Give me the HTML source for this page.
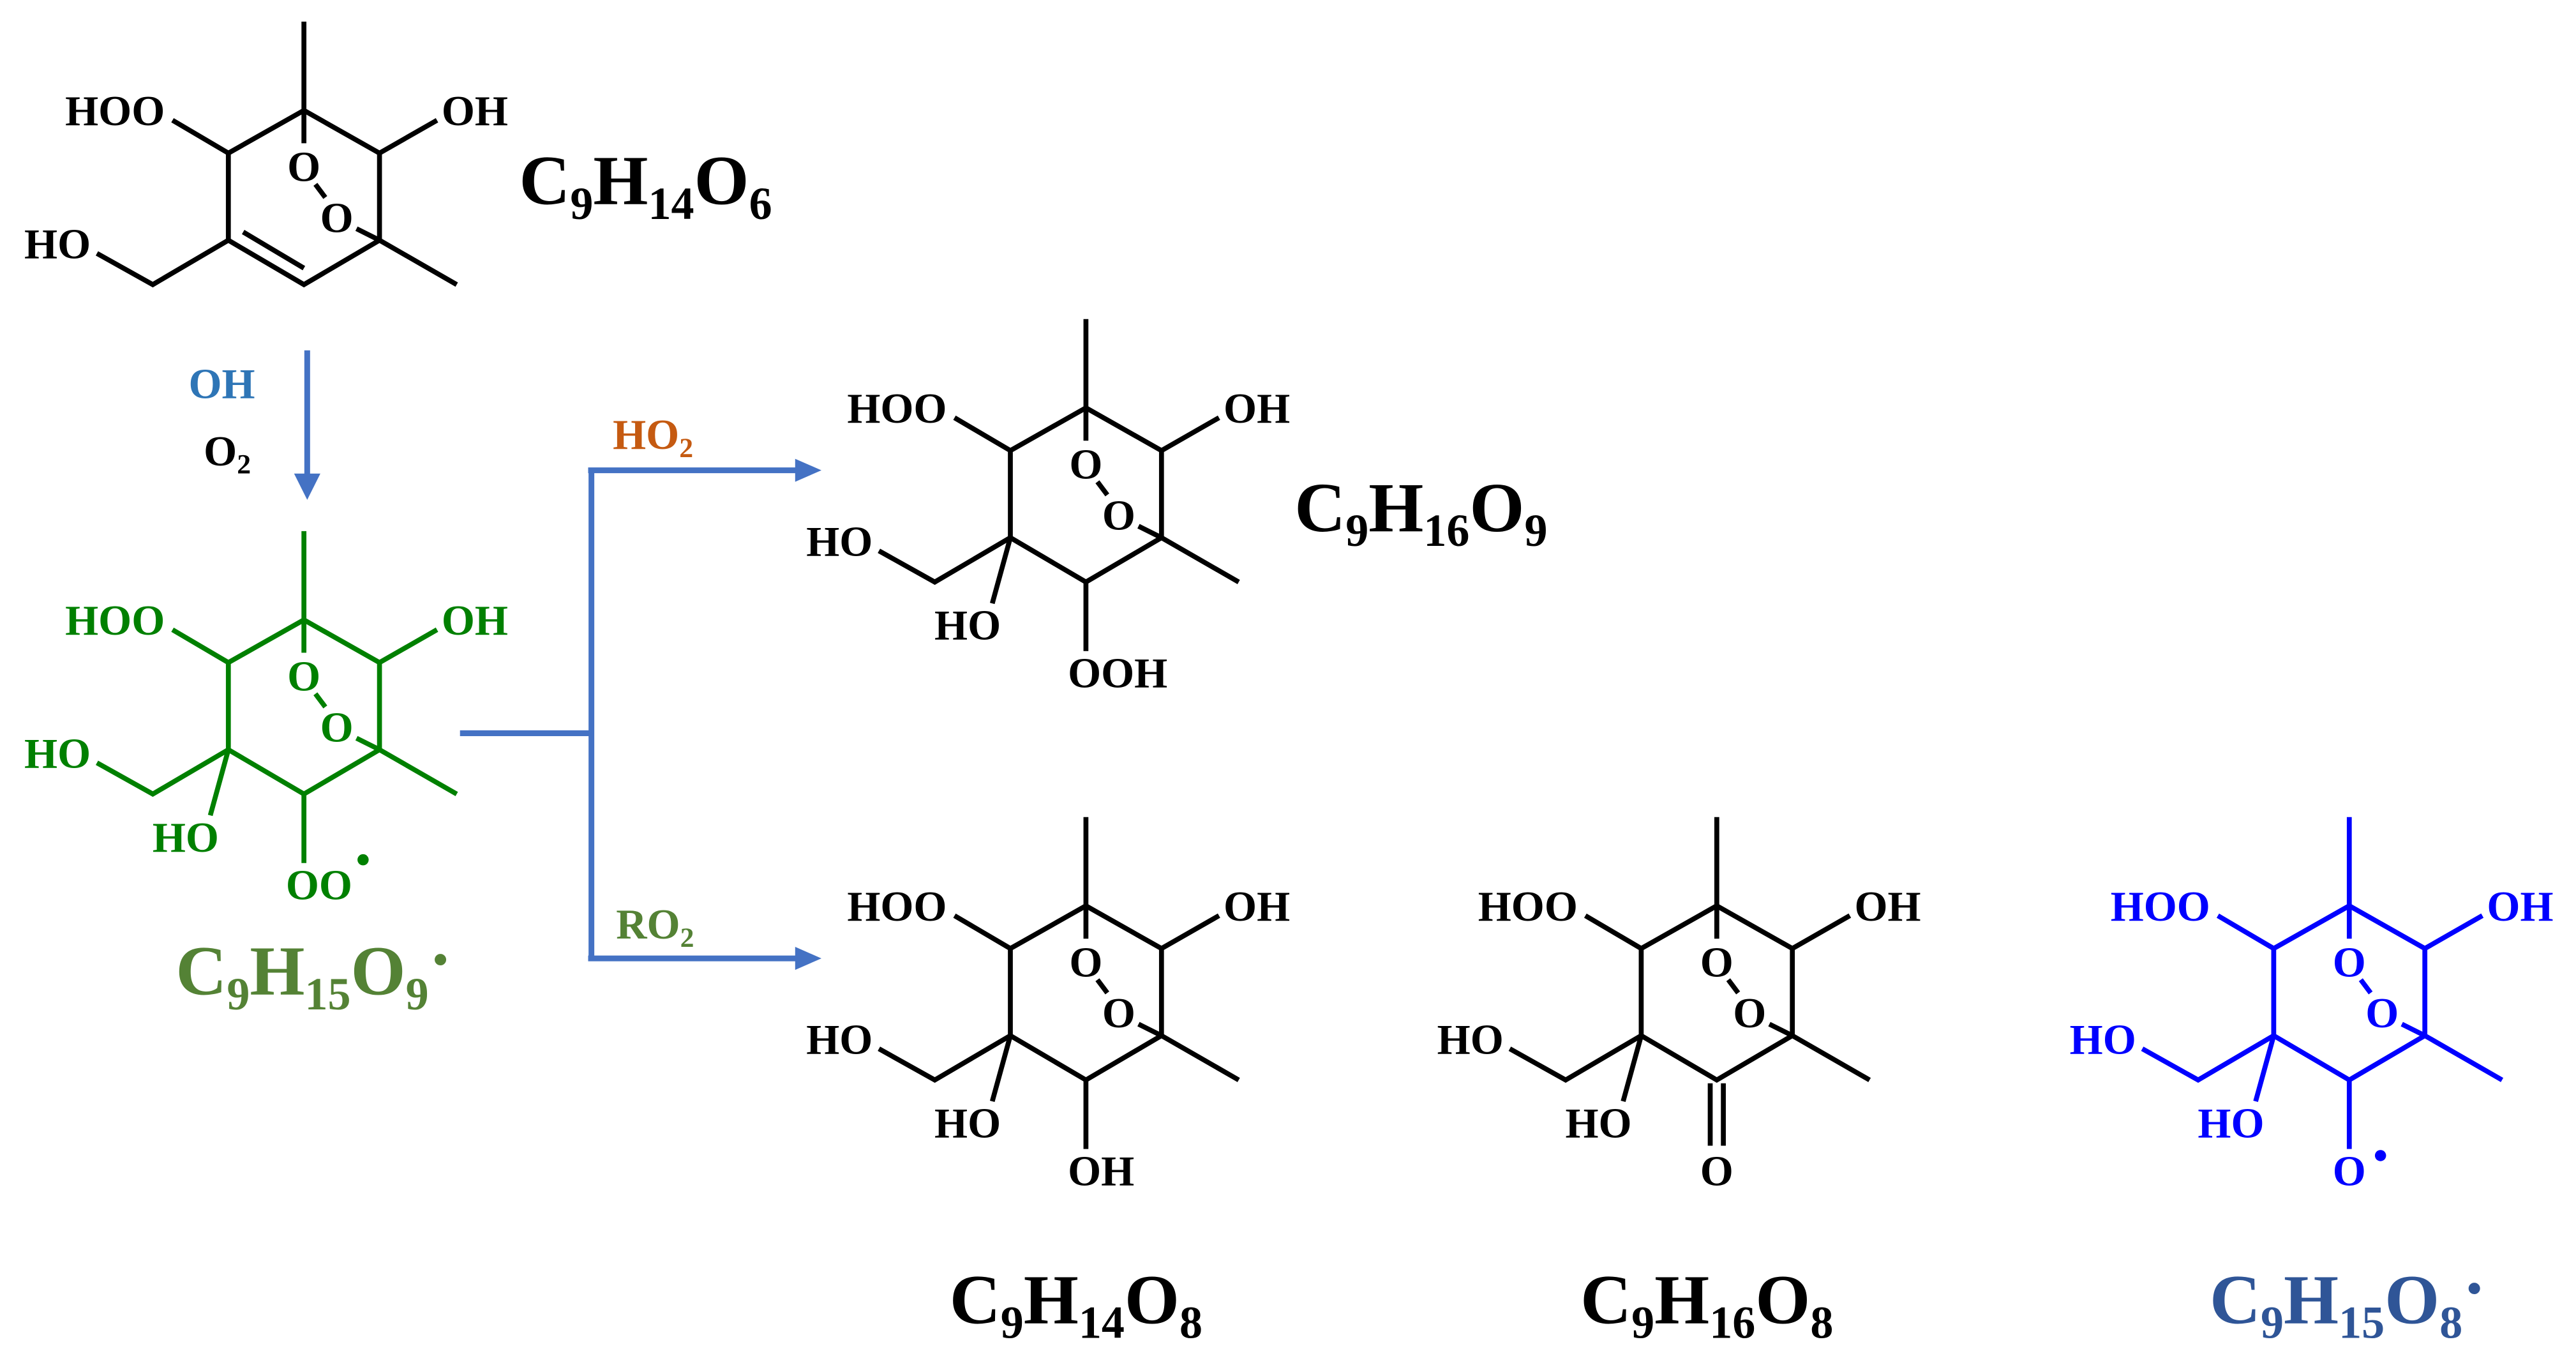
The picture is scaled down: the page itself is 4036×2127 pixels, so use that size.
<!DOCTYPE html>
<html><head><meta charset="utf-8"><style>
html,body{margin:0;padding:0;background:#fff;}
svg{display:block;}
text{font-family:"Liberation Serif",serif;font-weight:bold;}
</style></head><body>
<svg width="4036" height="2127" viewBox="0 0 1568 826" xmlns="http://www.w3.org/2000/svg">
<defs>
<g id="sk" fill="none" stroke="currentColor" stroke-width="3" stroke-linejoin="miter">
<polygon points="0,0 46,26 46,79 0,106 -46,79 -46,26"/>
<line x1="0" y1="-54" x2="0" y2="20"/>
<line x1="7" y1="45" x2="13" y2="53"/>
<line x1="32" y1="72" x2="46" y2="79"/>
<line x1="-80" y1="6" x2="-46" y2="26"/>
<line x1="46" y1="26" x2="81" y2="6"/>
<line x1="46" y1="79" x2="93" y2="106"/>
<polyline points="-46,79 -92,106 -126,87"/>
</g>
<g id="lb" fill="currentColor" font-size="26" text-anchor="middle">
<text x="0" y="43" font-family="Liberation Serif" font-weight="bold">O</text>
<text x="20" y="74" font-family="Liberation Serif" font-weight="bold">O</text>
<text x="-115" y="9" font-family="Liberation Serif" font-weight="bold">HOO</text>
<text x="104" y="9" font-family="Liberation Serif" font-weight="bold">OH</text>
<text x="-150" y="90" font-family="Liberation Serif" font-weight="bold">HO</text>
</g>
<g id="c5" fill="currentColor">
<line x1="-46" y1="79" x2="-57" y2="119" stroke="currentColor" stroke-width="3"/>
<text x="-72" y="141" font-size="26" text-anchor="middle" font-family="Liberation Serif" font-weight="bold">HO</text>
</g>
</defs>

<!-- S1 -->
<g transform="translate(185,67)" color="#000">
<use href="#sk"/><use href="#lb"/>
<line x1="-37" y1="74" x2="0" y2="96" stroke="#000" stroke-width="3"/>
</g>
<text x="316" y="124" font-size="43" fill="#000">C<tspan font-size="28" dy="9">9</tspan><tspan dy="-9">H</tspan><tspan font-size="28" dy="9">14</tspan><tspan dy="-9">O</tspan><tspan font-size="28" dy="9">6</tspan></text>

<!-- main arrow -->
<line x1="187" y1="213" x2="187" y2="292" stroke="#4472C4" stroke-width="3.5"/>
<polygon points="179,288 195,288 187,304" fill="#4472C4"/>
<text x="135" y="242" font-size="26" fill="#2E75B6" text-anchor="middle">OH</text>
<text x="124" y="283" font-size="26" fill="#000">O<tspan font-size="17" dy="5">2</tspan></text>

<!-- S2 green -->
<g transform="translate(185,377)" color="#008000">
<use href="#sk"/><use href="#lb"/><use href="#c5"/>
<line x1="0" y1="106" x2="0" y2="148" stroke="#008000" stroke-width="3"/>
<text x="-11" y="170" font-size="26" fill="#008000">OO</text>
<circle cx="36" cy="146" r="3.4" fill="#008000"/>
</g>
<text x="107" y="605" font-size="43" fill="#548235">C<tspan font-size="28" dy="9">9</tspan><tspan dy="-9">H</tspan><tspan font-size="28" dy="9">15</tspan><tspan dy="-9">O</tspan><tspan font-size="28" dy="9">9</tspan><tspan dy="-16">·</tspan></text>

<!-- connector -->
<g stroke="#4472C4" stroke-width="3.5" fill="none">
<line x1="280" y1="446" x2="360" y2="446"/>
<line x1="360" y1="286" x2="360" y2="583"/>
<line x1="358" y1="286" x2="488" y2="286"/>
<line x1="358" y1="583" x2="488" y2="583"/>
</g>
<polygon points="484,279 500,286 484,293" fill="#4472C4"/>
<polygon points="484,576 500,583 484,590" fill="#4472C4"/>
<text x="373" y="273" font-size="26" fill="#C55A11">HO<tspan font-size="17" dy="5">2</tspan></text>
<text x="375" y="571" font-size="26" fill="#548235">RO<tspan font-size="17" dy="5">2</tspan></text>

<!-- S3 -->
<g transform="translate(661,248)" color="#000">
<use href="#sk"/><use href="#lb"/><use href="#c5"/>
<line x1="0" y1="106" x2="0" y2="148" stroke="#000" stroke-width="3"/>
<text x="-11" y="170" font-size="26" fill="#000">OOH</text>
</g>
<text x="788" y="323" font-size="43" fill="#000">C<tspan font-size="28" dy="9">9</tspan><tspan dy="-9">H</tspan><tspan font-size="28" dy="9">16</tspan><tspan dy="-9">O</tspan><tspan font-size="28" dy="9">9</tspan></text>

<!-- S4 -->
<g transform="translate(661,551)" color="#000">
<use href="#sk"/><use href="#lb"/><use href="#c5"/>
<line x1="0" y1="106" x2="0" y2="148" stroke="#000" stroke-width="3"/>
<text x="-11" y="170" font-size="26" fill="#000">OH</text>
</g>
<text x="578" y="805" font-size="43" fill="#000">C<tspan font-size="28" dy="9">9</tspan><tspan dy="-9">H</tspan><tspan font-size="28" dy="9">14</tspan><tspan dy="-9">O</tspan><tspan font-size="28" dy="9">8</tspan></text>

<!-- S5 -->
<g transform="translate(1045,551)" color="#000">
<use href="#sk"/><use href="#lb"/><use href="#c5"/>
<line x1="-4" y1="108" x2="-4" y2="146" stroke="#000" stroke-width="3"/>
<line x1="4" y1="108" x2="4" y2="146" stroke="#000" stroke-width="3"/>
<text x="0" y="170" font-size="26" fill="#000" text-anchor="middle">O</text>
</g>
<text x="962" y="805" font-size="43" fill="#000">C<tspan font-size="28" dy="9">9</tspan><tspan dy="-9">H</tspan><tspan font-size="28" dy="9">16</tspan><tspan dy="-9">O</tspan><tspan font-size="28" dy="9">8</tspan></text>

<!-- S6 blue -->
<g transform="translate(1430,551)" color="#0000FF">
<use href="#sk"/><use href="#lb"/><use href="#c5"/>
<line x1="0" y1="106" x2="0" y2="148" stroke="#0000FF" stroke-width="3"/>
<text x="0" y="170" font-size="26" fill="#0000FF" text-anchor="middle">O</text>
<circle cx="19" cy="152" r="3.4" fill="#0000FF"/>
</g>
<text x="1345" y="805" font-size="43" fill="#2F5597">C<tspan font-size="28" dy="9">9</tspan><tspan dy="-9">H</tspan><tspan font-size="28" dy="9">15</tspan><tspan dy="-9">O</tspan><tspan font-size="28" dy="9">8</tspan><tspan dy="-16">·</tspan></text>
</svg>
</body></html>
